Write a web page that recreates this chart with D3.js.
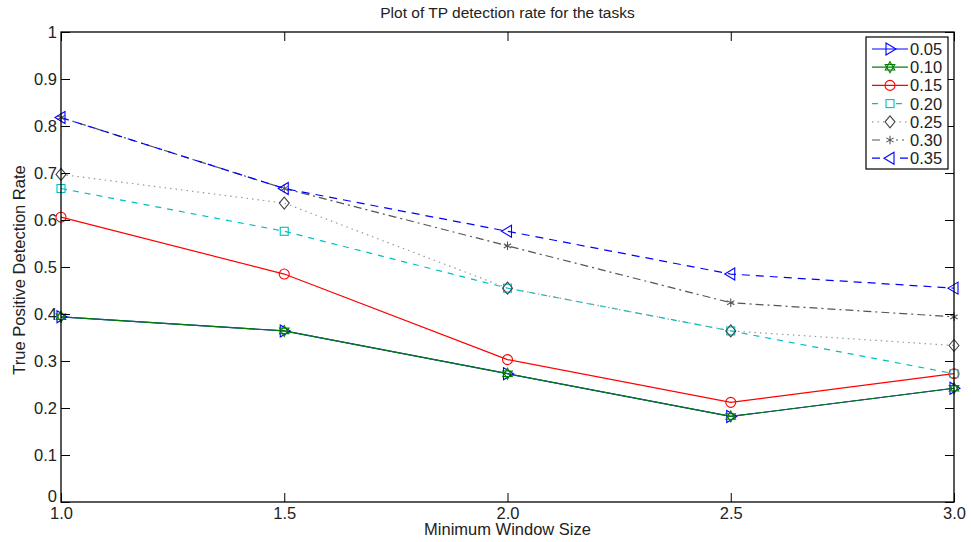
<!DOCTYPE html>
<html>
<head>
<meta charset="utf-8">
<script src="https://cdn.jsdelivr.net/npm/d3@7"></script>
<style>
  body { margin: 0; background: #fff; }
  text { font-family: "Liberation Sans", Arial, sans-serif; fill: #222; }
</style>
</head>
<body>
<svg class="chart"></svg>
<script>
// data
var windowSizes = [1.0, 1.5, 2.0, 2.5, 3.0];
var seriesNames = ["0.05", "0.10", "0.15", "0.20", "0.25", "0.30", "0.35"];
var rate005 = [0.394, 0.364, 0.273, 0.182, 0.242];
var rate010 = [0.394, 0.364, 0.273, 0.182, 0.242];
var rate015 = [0.606, 0.485, 0.303, 0.212, 0.273];
var rate020 = [0.667, 0.576, 0.455, 0.364, 0.273];
var rate025 = [0.697, 0.636, 0.455, 0.364, 0.333];
var rate030 = [0.818, 0.667, 0.545, 0.424, 0.394];
var rate035 = [0.818, 0.667, 0.576, 0.485, 0.455];
var xTicks = [1.0, 1.5, 2.0, 2.5, 3.0];
var yTicks = [0, 0.1, 0.2, 0.3, 0.4, 0.5, 0.6, 0.7, 0.8, 0.9, 1];

var allRates = [rate005, rate010, rate015, rate020, rate025, rate030, rate035];

// line styles per series (matlab-ish)
var styles = [
  {color: "#0000ff", dash: null, marker: "triR"},
  {color: "#008000", dash: null, marker: "hex"},
  {color: "#ff0000", dash: null, marker: "circle"},
  {color: "#00bfbf", dash: "6,6", marker: "square"},
  {color: "#9a9a9a", dash: "1.5,4", marker: "diamond", mcolor: "#444"},
  {color: "#555555", dash: "8,4,2,4", marker: "star"},
  {color: "#0000ff", dash: "8,6", marker: "triL"}
];

var W = 971, H = 542;
var margin = {top: 32, right: 17, bottom: 40, left: 61},
    width = W - margin.left - margin.right,
    height = H - margin.top - margin.bottom;

var svg = d3.select(".chart").attr("width", W).attr("height", H);
var chart = svg.append("g")
    .attr("transform", "translate(" + margin.left + "," + margin.top + ")");

var x = d3.scaleLinear().domain([1, 3]).range([0, width]);
var y = d3.scaleLinear().domain([0, 1]).range([height, 0]);

// series lines
var line = d3.line()
    .x(function(d, i) { return x(windowSizes[i]); })
    .y(function(d) { return y(d); });

allRates.forEach(function(vals, k) {
  var st = styles[k];
  chart.append("path")
      .attr("d", line(vals))
      .attr("fill", "none")
      .attr("stroke", st.color)
      .attr("stroke-width", 1.2)
      .attr("stroke-dasharray", st.dash);
});

function tri(cx, cy, r, rot) {
  var p = [];
  for (var i = 0; i < 3; i++) {
    var a = rot + i * 2 * Math.PI / 3;
    p.push((cx + r * Math.cos(a)) + "," + (cy + r * Math.sin(a)));
  }
  return "M" + p.join("L") + "Z";
}

function drawMarker(g, type, cx, cy, color) {
  var m;
  if (type == "circle") {
    m = g.append("circle").attr("cx", cx).attr("cy", cy).attr("r", 5);
  } else if (type == "square") {
    m = g.append("rect").attr("x", cx - 4).attr("y", cy - 4).attr("width", 8).attr("height", 8);
  } else if (type == "diamond") {
    m = g.append("path").attr("d", "M" + cx + "," + (cy - 6) + "L" + (cx + 5) + "," + cy + "L" + cx + "," + (cy + 6) + "L" + (cx - 5) + "," + cy + "Z");
  } else if (type == "triR") {
    m = g.append("path").attr("d", "M" + (cx - 4) + "," + (cy - 6) + "L" + (cx + 6) + "," + cy + "L" + (cx - 4) + "," + (cy + 6) + "Z");
  } else if (type == "triL") {
    m = g.append("path").attr("d", "M" + (cx + 4) + "," + (cy - 6) + "L" + (cx - 6) + "," + cy + "L" + (cx + 4) + "," + (cy + 6) + "Z");
  } else if (type == "hex") {
    m = g.append("path").attr("d", tri(cx, cy, 5.5, -Math.PI / 2) + tri(cx, cy, 5.5, Math.PI / 2));
  } else if (type == "star") {
    m = g.append("path").attr("d", d3.symbol().type(d3.symbolAsterisk).size(50)()).attr("transform", "translate(" + cx + "," + cy + ")");
  }
  m.attr("fill", "none").attr("stroke", color).attr("stroke-width", 1.1);
}

allRates.forEach(function(vals, k) {
  var st = styles[k];
  var g = chart.append("g");
  vals.forEach(function(v, i) {
    drawMarker(g, st.marker, x(windowSizes[i]), y(v), st.mcolor || st.color);
  });
});

// axes box with inward ticks
var axisG = chart.append("g");
axisG.append("rect")
    .attr("width", width).attr("height", height)
    .attr("fill", "none").attr("stroke", "#000").attr("stroke-width", 1.3);

var xAxis = d3.axisBottom(x).tickValues(xTicks).tickFormat(d3.format(".1f")).tickSizeInner(-9).tickSizeOuter(0).tickPadding(14);
var yAxis = d3.axisLeft(y).tickValues(yTicks).tickFormat(function(d) { return d == 0 || d == 1 ? d : d3.format(".1f")(d); }).tickSizeInner(-9).tickSizeOuter(0).tickPadding(14);

var gx = axisG.append("g").attr("transform", "translate(0," + height + ")").call(xAxis);
var gy = axisG.append("g").call(yAxis);
axisG.append("g").attr("transform", "translate(" + width + ",0)")
    .call(d3.axisRight(y).tickValues(yTicks).tickFormat("").tickSizeInner(-9).tickSizeOuter(0));
axisG.append("g")
    .call(d3.axisTop(x).tickValues(xTicks).tickFormat("").tickSizeInner(-9).tickSizeOuter(0));

axisG.selectAll(".domain").remove();
axisG.selectAll(".tick line").attr("stroke", "#000");
axisG.selectAll(".tick text")
    .style("font-size", "16.5px").style("font-family", "Liberation Sans, Arial, sans-serif").attr("fill", "#222");
gy.selectAll(".tick text").attr("x", -4);
gx.selectAll(".tick text").attr("y", 5);
// nudge the "0" up a little so it clears "1.0"
gy.selectAll(".tick").filter(function(d) { return d == 0; }).select("text").attr("dy", "-0.05em");

// titles
svg.append("text")
    .attr("x", margin.left + width / 2).attr("y", 18)
    .attr("text-anchor", "middle").style("font-size", "15.5px")
    .text("Plot of TP detection rate for the tasks");
svg.append("text")
    .attr("x", margin.left + width / 2).attr("y", 535)
    .attr("text-anchor", "middle").style("font-size", "16.5px")
    .text("Minimum Window Size");
svg.append("text")
    .attr("transform", "translate(25," + (margin.top + height / 2 + 3) + ") rotate(-90)")
    .attr("text-anchor", "middle").style("font-size", "16.5px")
    .text("True Positive Detection Rate");

// legend
var lg = svg.append("g").attr("transform", "translate(866,37)");
lg.append("rect").attr("width", 82).attr("height", 132)
    .attr("fill", "#fff").attr("stroke", "#000").attr("stroke-width", 1.2);
seriesNames.forEach(function(name, k) {
  var st = styles[k];
  var yy = 12 + k * 18.2;
  lg.append("line").attr("x1", 6).attr("x2", 42).attr("y1", yy).attr("y2", yy)
    .attr("stroke", st.color).attr("stroke-width", 1.2).attr("stroke-dasharray", st.dash);
  var mg = lg.append("g");
  mg.append("rect").attr("x", 18).attr("y", yy - 6).attr("width", 12).attr("height", 12).attr("fill", "#fff").attr("opacity", st.dash ? 1 : 0);
  drawMarker(mg, st.marker, 24, yy, st.mcolor || st.color);
  lg.append("text").attr("x", 44).attr("y", yy + 6)
    .style("font-size", "16.5px").text(name);
});
</script>
</body>
</html>
